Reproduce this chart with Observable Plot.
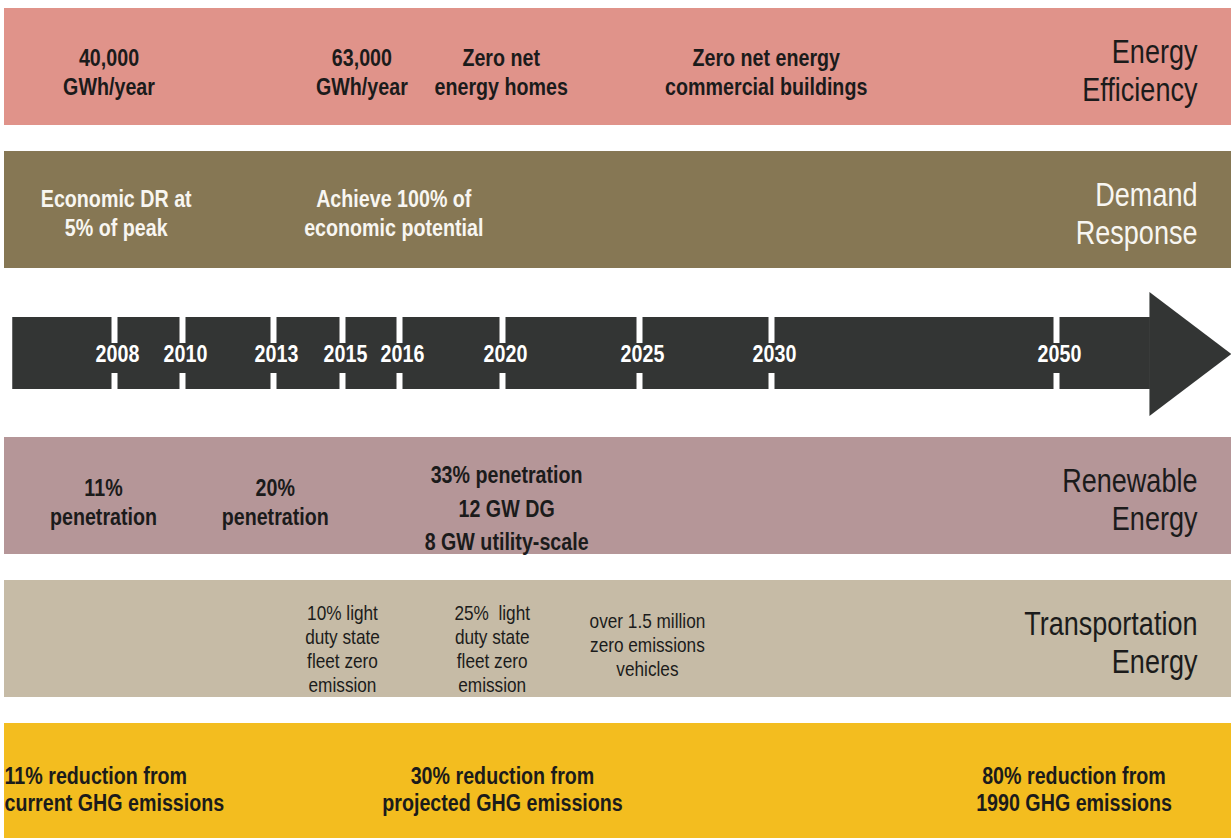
<!DOCTYPE html>
<html><head><meta charset="utf-8">
<script src="https://cdn.jsdelivr.net/npm/d3@7"></script>
<script src="https://cdn.jsdelivr.net/npm/@observablehq/plot@0.6"></script>
<style>
html,body{margin:0;padding:0;background:#fff;}
#chart svg{display:block;}
</style></head><body><div id="chart"></div>
<script>
// ---- data ----
const rowOrder = ["Energy Efficiency","Demand Response","Timeline","Renewable Energy","Transportation Energy","GHG Emissions"];
const bandRows = ["Energy Efficiency","Demand Response","Renewable Energy","Transportation Energy","GHG Emissions"];
const rowTitles = ["Energy\nEfficiency","Demand\nResponse","Renewable\nEnergy","Transportation\nEnergy",""];
const years = [2008, 2010, 2013, 2015, 2016, 2020, 2025, 2030, 2050];
const timelineStart = 2004, timelineEnd = 2056;
const arrowStart = 2004.3, arrowHeadStart = 2053.22;

const efficiencyYears = [2007.8, 2015.34, 2019.95, 2029.8];
const efficiencyText = ["40,000\nGWh/year", "63,000\nGWh/year", "Zero net\nenergy homes", "Zero net energy\ncommercial buildings"];
const demandYears = [2008.05, 2015.9];
const demandText = ["Economic DR at\n5% of peak", "Achieve 100% of\neconomic potential"];
const renewableYears = [2007.6, 2013.05, 2020.15];
const renewableText = ["11%\npenetration", "20%\npenetration", "33% penetration\n12 GW DG\n8 GW utility-scale"];
const transportYears = [2015.0, 2019.6, 2025.3];
const transportText = ["10% light\nduty state\nfleet zero\nemission", "25%  light\nduty state\nfleet zero\nemission", "over 1.5 million\nzero emissions\nvehicles"];
const ghgYears = [null, 2020.0, 2050.6];
const ghgText = ["11% reduction from\ncurrent GHG emissions", "30% reduction from\nprojected GHG emissions", "80% reduction from\n1990 GHG emissions"];

// ---- styles / layout ----
const bandColors = ["#e0938a", "#867754", "#b59698", "#c6bba6", "#f3bd1f"];
const arrowColor = "#333534";
const ink = "#1b1b1b";
const light = "#f8f6f1";
const font = "'Liberation Sans', Arial, sans-serif";
const narrow = 0.82; // horizontal squeeze to mimic a narrow typeface
// timeline layout: where each year sits along the (non-uniform) arrow
const yearToPx = d3.scaleLinear()
  .domain([timelineStart, ...years, timelineEnd])
  .range([4, 114, 182, 273, 342, 399, 502, 639, 771, 1056, 1231]);

const rowsOf = (ys, ts, row) => ys.map((y, i) => ({year: y, text: ts[i], row}));
const eff = rowsOf(efficiencyYears, efficiencyText, "Energy Efficiency");
const dem = rowsOf(demandYears, demandText, "Demand Response");
const ren = rowsOf(renewableYears, renewableText, "Renewable Energy");
const tra = rowsOf(transportYears, transportText, "Transportation Energy");
const ghg = rowsOf(ghgYears, ghgText, "GHG Emissions");
const titles = bandRows.map((r, i) => ({row: r, text: rowTitles[i]}));

const headSymbol = {
  draw(ctx, size) {
    ctx.moveTo(-1, -62);
    ctx.lineTo(81, 0);
    ctx.lineTo(-1, 62);
    ctx.closePath();
  }
};

const milestone = {fontFamily: font, fontSize: 24, fontWeight: "bold", lineHeight: 1.17, fill: ink};

const chart = Plot.plot({
  width: 1231,
  height: 838,
  marginTop: 0, marginBottom: 0, marginLeft: 4, marginRight: 0,
  style: {fontFamily: font, background: "white"},
  x: {axis: null, domain: [0, 1231], range: [0, 1231], transform: yearToPx},
  y: {axis: null, type: "band", domain: rowOrder, range: [8, 840], paddingInner: 0.182, paddingOuter: 0},
  color: {domain: bandRows, range: bandColors},
  marks: [
    Plot.barX(bandRows, {y: d => d, x1: () => timelineStart, x2: () => timelineEnd, fill: d => d}),
    // timeline arrow
    Plot.barX([0], {y: () => "Timeline", x1: () => arrowStart, x2: () => arrowHeadStart, fill: arrowColor, insetTop: 23, insetBottom: 22}),
    Plot.dot([arrowHeadStart], {x: d => d, y: () => "Timeline", symbol: headSymbol, r: 10, fill: arrowColor, stroke: "none", dy: 1}),
    Plot.tickX(years, {x: d => d, y: () => "Timeline", stroke: "white", strokeWidth: 6, insetTop: 23, insetBottom: 68}),
    Plot.tickX(years, {x: d => d, y: () => "Timeline", stroke: "white", strokeWidth: 6, insetTop: 79, insetBottom: 22}),
    Plot.text(years, {x: d => d, y: () => "Timeline", text: d => String(d), fill: "white", fontFamily: font, fontSize: 24, fontWeight: "bold", dx: 3, dy: 1}),
    // milestones
    Plot.text(eff, {x: "year", y: "row", text: "text", ...milestone, dy: 4.5}),
    Plot.text(dem, {x: "year", y: "row", text: "text", ...milestone, fill: light, dy: 2.5}),
    Plot.text(ren.slice(0, 2), {x: "year", y: "row", text: "text", ...milestone, dy: 5.5}),
    Plot.text(ren.slice(2), {x: "year", y: "row", text: "text", ...milestone, lineHeight: 1.4, dy: 10}),
    Plot.text(tra.slice(0, 2), {x: "year", y: "row", text: "text", fontFamily: font, fontSize: 21, lineHeight: 1.14, fill: ink, dy: 9.5}),
    Plot.text(tra.slice(2), {x: "year", y: "row", text: "text", fontFamily: font, fontSize: 21, lineHeight: 1.14, fill: ink, dy: 5.5}),
    Plot.text(ghg.slice(0, 1), {y: "row", text: "text", frameAnchor: "left", textAnchor: "start", ...milestone, lineHeight: 1.13, dy: 6.5}),
    Plot.text(ghg.slice(1), {x: "year", y: "row", text: "text", ...milestone, lineHeight: 1.13, dy: 6.5}),
    // row titles
    Plot.text(titles, {y: "row", text: "text", frameAnchor: "right", textAnchor: "end", dx: -34, dy: 3,
      fontFamily: font, fontSize: 33, lineHeight: 1.15,
      fill: d => d.row === "Demand Response" ? light : ink})
  ]
});
// squeeze glyphs horizontally around each text's anchor
chart.querySelectorAll("text").forEach(t => {
  const tr = t.getAttribute("transform") || "";
  t.setAttribute("transform", (tr + ` scale(${narrow},1)`).trim());
});
document.getElementById("chart").appendChild(chart);
</script>
</body></html>
